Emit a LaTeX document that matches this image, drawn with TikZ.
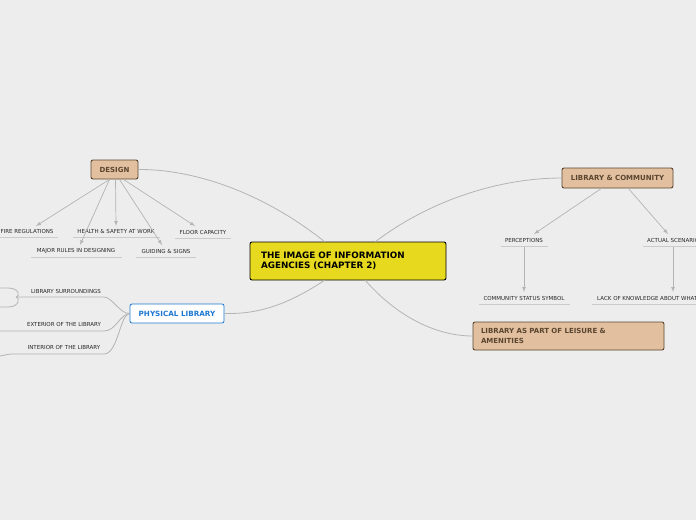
\documentclass[tikz,border=0pt]{standalone}
\usepackage{fontspec}
\setmainfont{DejaVu Sans}
\usetikzlibrary{positioning}
\definecolor{bgc}{HTML}{EDEDED}
\definecolor{linec}{HTML}{B4B4B4}
\definecolor{tanc}{HTML}{E2BF9E}
\definecolor{brownc}{HTML}{5A4630}
\definecolor{yelc}{HTML}{E6D91E}
\definecolor{bluec}{HTML}{1E78D2}
\tikzset{
  topic/.style={draw=brownc, line width=0.9pt, rectangle, rounded corners=2pt, fill=tanc, text=brownc, font=\bfseries\fontsize{7}{8}\selectfont, inner sep=0pt},
  leaf/.style={font=\fontsize{5.5}{6}\selectfont, text=black!85, inner sep=0pt},
  uline/.style={draw=linec!70, line width=0.5pt},
  branch/.style={draw=linec, line width=0.8pt},
  arr/.style={draw=linec, line width=0.7pt, ->, >=latex}
}
\begin{document}
\begin{tikzpicture}[x=1pt, y=-1pt]
        \useasboundingbox[fill=bgc] (0,0) rectangle (696,520);
        % Nodes
        \node[draw=black, line width=0.9pt, rounded corners=2pt, fill=yelc, minimum width=196pt, minimum height=38pt, align=left, text width=174pt, font=\bfseries\fontsize{8.8}{10.5}\selectfont] (main) at (348,261) {THE IMAGE OF INFORMATION\\AGENCIES (CHAPTER 2)};
        \node[topic, minimum width=47pt, minimum height=19pt] (design) at (114.5,169.5) {DESIGN};
        \node[topic, minimum width=111pt, minimum height=20pt] (comm) at (617.5,178) {LIBRARY \& COMMUNITY};
        \node[topic, minimum width=191pt, minimum height=28pt, align=left, text width=175pt, font=\bfseries\fontsize{7}{9.5}\selectfont] (leisure) at (568.5,336) {LIBRARY AS PART OF LEISURE \&\\AMENITIES};
        \node[draw=bluec, line width=0.8pt, rounded corners=2pt, fill=white, text=bluec, font=\bfseries\fontsize{7.2}{8}\selectfont, minimum width=94pt, minimum height=19pt, inner sep=0pt] (phys) at (177,313.5) {PHYSICAL LIBRARY};

        \node[leaf] (fire) at (27,231) {FIRE REGULATIONS};
        \node[leaf] (health) at (116,231) {HEALTH \& SAFETY AT WORK};
        \node[leaf] (floor) at (203,232) {FLOOR CAPACITY};
        \node[leaf] (major) at (76,251) {MAJOR RULES IN DESIGNING};
        \node[leaf] (guide) at (166,251) {GUIDING \& SIGNS};
        \node[leaf] (perc) at (524,240) {PERCEPTIONS};
        \node[leaf, anchor=west] (actual) at (647,240) {ACTUAL SCENARIO};
        \node[leaf] (status) at (524,298) {COMMUNITY STATUS SYMBOL};
        \node[leaf, anchor=west] (lack) at (597,298) {LACK OF KNOWLEDGE ABOUT WHAT};
        \node[leaf] (surr) at (66,291) {LIBRARY SURROUNDINGS};
        \node[leaf] (ext) at (64,324) {EXTERIOR OF THE LIBRARY};
        \node[leaf] (int) at (64,347) {INTERIOR OF THE LIBRARY};

        % Underlines
        \draw[uline] (0,237) -- (58,237);
        \draw[uline] (73,237) -- (160,237);
        \draw[uline] (175,238) -- (231,238);
        \draw[uline] (31,257) -- (122,257);
        \draw[uline] (136,257) -- (196,257);
        \draw[uline] (501,246) -- (548,246);
        \draw[uline] (643,246) -- (696,246);
        \draw[uline] (479,304) -- (570,304);
        \draw[uline] (592,304) -- (696,304);

        % Branches
        \draw[branch] (325,242) .. controls (260,190) and (190,169) .. (design.east);
        \draw[branch] (375,242) .. controls (430,200) and (500,178) .. (comm.west);
        \draw[branch] (365,280) .. controls (400,320) and (440,336) .. (leisure.west);
        \draw[branch] (325,280) .. controls (280,310) and (250,314) .. (phys.east);
        \draw[branch] (phys.west) .. controls (120,314) and (112,297) .. (104,297) -- (16,297);
        \draw[branch] (16,297) .. controls (20,297) and (20,288) .. (8,288) -- (0,288);
        \draw[branch] (16,297) .. controls (20,297) and (20,307) .. (8,307) -- (0,307);
        \draw[branch] (phys.west) .. controls (120,314) and (116,331) .. (104,331) -- (0,331);
        \draw[branch] (phys.west) .. controls (120,314) and (118,354) .. (104,354) -- (12,354) .. controls (6,354) and (4,356) .. (0,356);

        % Arrows
        \draw[arr] (design.south) ++(-5,0) -- (36,226);
        \draw[arr] (design.south) ++(-5,0) -- (80,245);
        \draw[arr] (design.south) ++(1,0) -- (116,226);
        \draw[arr] (design.south) ++(5,0) -- (162,245);
        \draw[arr] (design.south) ++(9,0) -- (195,226);
        \draw[arr] (602,188) -- (534,234);
        \draw[arr] (628,188) -- (668,234);
        \draw[arr] (524,247) -- (524,292);
        \draw[arr] (673,247) -- (673,292);
\end{tikzpicture}
\end{document}
